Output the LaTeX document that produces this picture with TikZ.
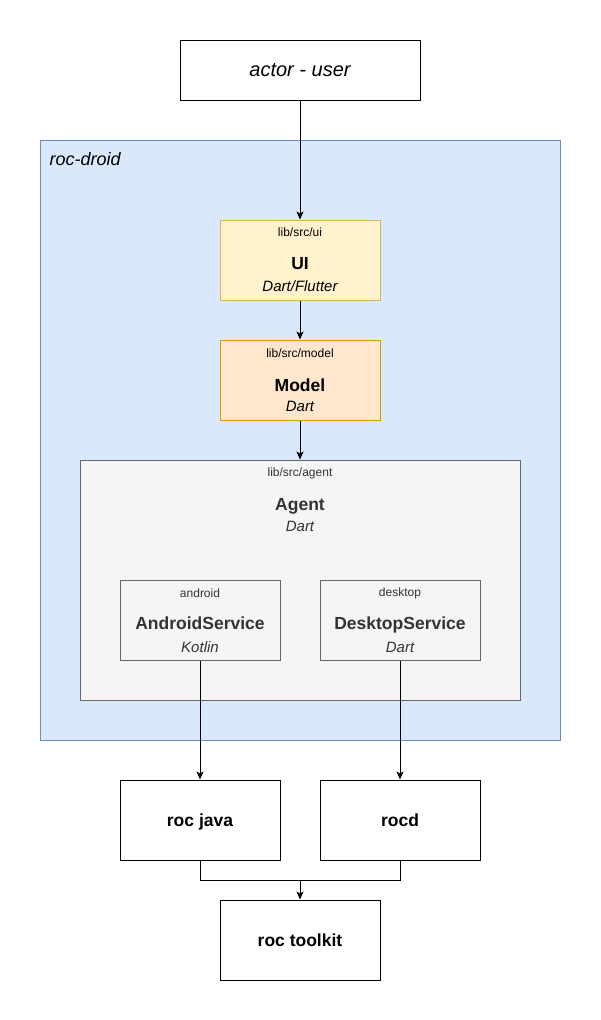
\documentclass[tikz,border=0pt]{standalone}
\usepackage{fontspec}
\setmainfont{Liberation Sans}
\usepackage{xcolor}
\usetikzlibrary{positioning,arrows.meta}
\definecolor{droidfill}{HTML}{DAE8FC}
\definecolor{droidline}{HTML}{6C8EBF}
\definecolor{uifill}{HTML}{FFF2CC}
\definecolor{uiline}{HTML}{D6B656}
\definecolor{modelfill}{HTML}{FFE6CC}
\definecolor{modelline}{HTML}{D79B00}
\definecolor{agentfill}{HTML}{F5F5F5}
\definecolor{agentline}{HTML}{666666}
\definecolor{agenttext}{HTML}{333333}

\begin{document}
\begin{tikzpicture}[x=1pt,y=-1pt,
		box/.style={draw, line width=1pt, minimum width=160pt, minimum height=80pt, inner sep=0pt},
		pathtxt/.style={font=\fontsize{12}{14}\selectfont},
		titletxt/.style={font=\bfseries\fontsize{17.5}{20}\selectfont},
		langtxt/.style={font=\itshape\fontsize{15}{18}\selectfont},
		link/.style={-{Stealth[length=8pt,width=7pt,inset=2pt]}, line width=1pt}]
			\useasboundingbox (0,0) rectangle (600,1020);
			
			% user on top
			\node[box, minimum width=240pt, minimum height=60pt, font=\itshape\fontsize{20}{24}\selectfont] (actor) at (300,70) {actor - user};
			
			% the app container
			\node[box, fill=droidfill, draw=droidline, minimum width=520pt, minimum height=600pt] (droid) at (300,440) {};
			\node[anchor=west, font=\itshape\fontsize{18}{22}\selectfont] (droidlbl) at (46,159) {roc-droid};
			
			\node[box, fill=uifill, draw=uiline] (ui) at (300,260) {};
			\node[pathtxt] (uipath) at (300,232) {lib/src/ui};
			\node[titletxt] (uiname) at (300,264) {UI};
			\node[langtxt] (uilang) at (300,286) {Dart/Flutter};
			
			\node[box, fill=modelfill, draw=modelline] (model) at (300,380) {};
			\node[pathtxt] (modelpath) at (300,353) {lib/src/model};
			\node[titletxt] (modelname) at (300,385) {Model};
			\node[langtxt] (modellang) at (300,406) {Dart};
			
			\begin{scope}[text=agenttext]
				\node[box, fill=agentfill, draw=agentline, minimum width=440pt, minimum height=240pt] (agent) at (300,580) {};
				\node[pathtxt] (agentpath) at (300,473) {lib/src/agent};
				\node[titletxt] (agentname) at (300,506) {Agent};
				\node[langtxt] (agentlang) at (300,526) {Dart};
				
				\node[box, fill=agentfill, draw=agentline] (android) at (200,620) {};
				\node[pathtxt] (androidpath) at (200,593) {android};
				\node[titletxt] (androidname) at (200,623) {AndroidService};
				\node[langtxt] (androidlang) at (200,647) {Kotlin};
				
				\node[box, fill=agentfill, draw=agentline] (desktop) at (400,620) {};
				\node[pathtxt] (desktoppath) at (400,593) {desktop};
				\node[titletxt] (desktopname) at (400,625) {DesktopService};
				\node[langtxt] (desktoplang) at (400,647) {Dart};
			\end{scope}
			
			% native parts
			\node[box, titletxt, text height=12.5pt, text depth=0pt] (rocjava) at (200,820) {roc java};
			\node[box, titletxt, text height=12.5pt, text depth=0pt] (rocd) at (400,820) {rocd};
			\node[box, titletxt, text height=12.5pt, text depth=0pt] (toolkit) at (300,940) {roc toolkit};
			
			\draw[link] (actor) -- (ui);
			\draw[link] (ui) -- (model);
			\draw[link] (model) -- (agent);
			\draw[link] (android) -- (rocjava);
			\draw[link] (desktop) -- (rocd);
			
			\coordinate (merge) at (300,880);
			\draw[line width=1pt] (rocjava.south) |- (merge);
			\draw[line width=1pt] (rocd.south) |- (merge);
			\draw[link] (merge) -- (toolkit);
		\end{tikzpicture}
\end{document}
